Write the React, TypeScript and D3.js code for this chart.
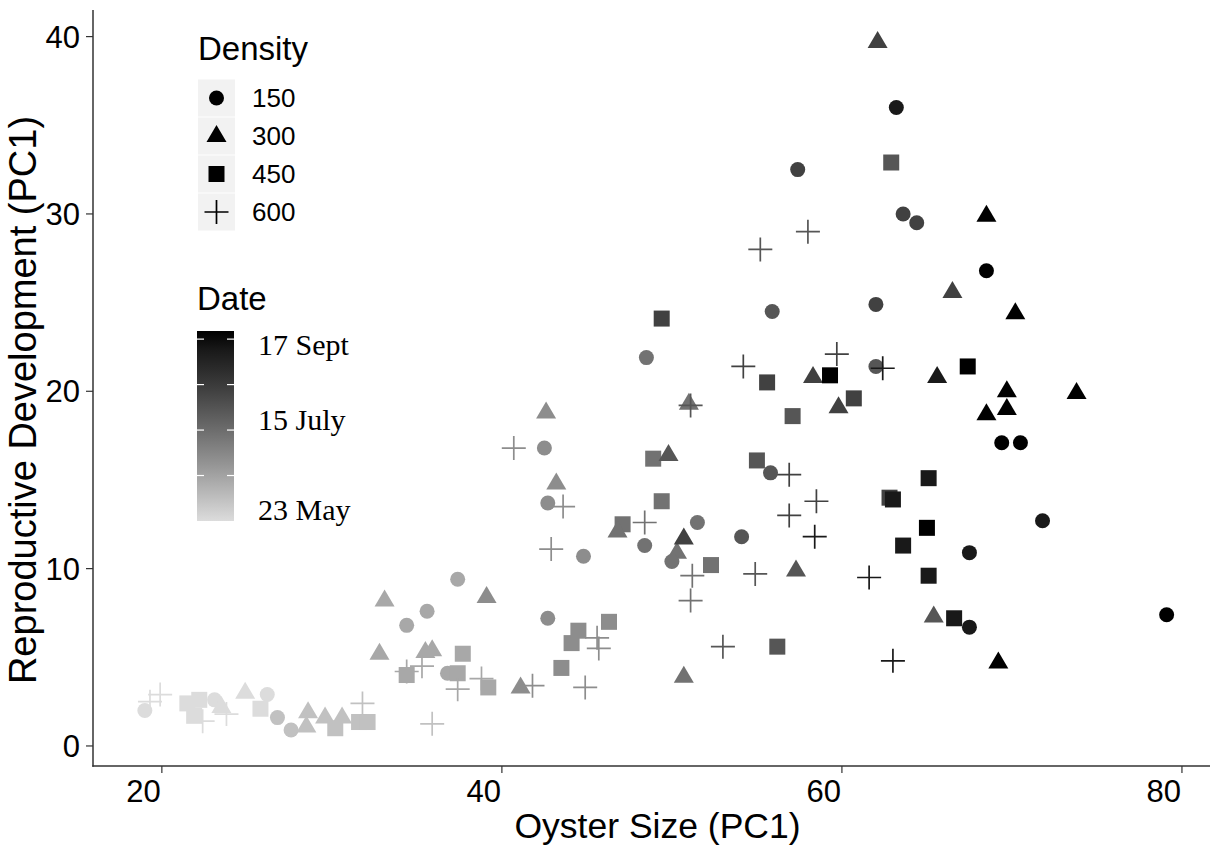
import React, { useEffect } from "react";
import * as d3 from "d3";

// sampling dates (colour scale) and points per sampling date: [oyster size, repro dev, density]
const sampleDates = ["2017-05-23", "2017-06-05", "2017-06-17", "2017-07-01", "2017-07-15",
  "2017-07-30", "2017-08-11", "2017-09-05", "2017-09-17"];

const may23 = [
  [19.0, 2.0, 150], [19.3, 2.5, 600], [19.9, 2.9, 600], [21.5, 2.4, 450], [22.2, 2.6, 450],
  [21.9, 1.7, 450], [22.4, 1.4, 600], [23.1, 2.6, 150], [23.5, 2.2, 300], [23.8, 1.8, 600],
  [24.9, 3.0, 300], [26.2, 2.9, 150], [25.8, 2.1, 450],
];
const jun05 = [
  [26.8, 1.6, 150], [27.6, 0.9, 150], [28.6, 1.9, 300], [28.5, 1.1, 300], [29.6, 1.6, 300],
  [30.6, 1.6, 300], [30.2, 1.0, 450], [31.8, 2.4, 600], [31.6, 1.35, 450], [32.1, 1.35, 450],
  [35.9, 1.25, 600],
];
const jun17 = [
  [33.1, 8.2, 300], [32.8, 5.2, 300], [34.4, 6.8, 150], [35.6, 7.6, 150], [37.4, 9.4, 150],
  [35.5, 5.3, 300], [35.9, 5.4, 300], [34.4, 4.0, 450], [34.4, 4.2, 600], [35.3, 4.5, 600],
  [36.8, 4.1, 150], [37.4, 4.1, 450], [37.4, 3.2, 600], [37.7, 5.2, 450], [38.8, 3.8, 600],
  [39.2, 3.3, 450],
];
const jul01 = [
  [39.1, 8.4, 300], [41.1, 3.3, 300], [41.8, 3.4, 600], [44.9, 3.3, 600], [43.5, 4.4, 450],
  [44.1, 5.8, 450], [44.5, 6.5, 450], [45.6, 6.1, 600], [45.7, 5.5, 600], [46.3, 7.0, 450],
  [42.7, 7.2, 150], [44.8, 10.7, 150], [42.9, 11.1, 600], [42.6, 18.8, 300], [40.7, 16.8, 600],
  [42.5, 16.8, 150], [43.2, 14.8, 300], [42.7, 13.7, 150], [43.6, 13.5, 600],
];
const jul15 = [
  [47.1, 12.5, 450], [46.8, 12.1, 300], [48.4, 12.6, 600], [48.4, 11.3, 150], [49.4, 13.8, 450],
  [48.9, 16.2, 450], [48.5, 21.9, 150], [50.3, 10.9, 300], [50.0, 10.4, 150], [51.5, 12.6, 150],
  [52.3, 10.2, 450], [51.2, 9.6, 600], [51.1, 8.2, 600], [51.0, 19.3, 300], [50.7, 3.9, 300],
];
const jul30 = [
  [49.8, 16.4, 300], [51.1, 19.2, 600], [54.1, 11.8, 150], [54.9, 9.7, 600], [57.3, 9.9, 300],
  [53.0, 5.6, 600], [56.2, 5.6, 450], [55.0, 16.1, 450], [55.8, 15.4, 150], [57.1, 18.6, 450],
  [55.9, 24.5, 150], [55.2, 28.0, 600], [58.0, 29.0, 600], [62.9, 32.9, 450], [65.4, 7.3, 300],
  [62.0, 21.4, 150],
];
const aug11 = [
  [58.5, 13.8, 600], [56.9, 13.0, 600], [58.3, 20.8, 300], [59.8, 19.1, 300], [60.7, 19.6, 450],
  [59.7, 22.1, 600], [62.0, 24.9, 150], [63.6, 30.0, 150], [64.4, 29.5, 150], [66.5, 25.6, 300],
  [62.8, 14.0, 450], [49.4, 24.1, 450], [57.4, 32.5, 150], [62.1, 39.7, 300], [50.7, 11.7, 300],
  [56.9, 15.3, 600], [55.6, 20.5, 450], [54.2, 21.4, 600],
];
const sep05 = [
  [63.2, 36.0, 150], [63.0, 13.9, 450], [65.1, 15.1, 450], [63.6, 11.3, 450], [65.1, 9.6, 450],
  [67.5, 10.9, 150], [66.6, 7.2, 450], [67.5, 6.7, 150], [63.0, 4.8, 600], [65.6, 20.8, 300],
  [62.4, 21.3, 600], [71.8, 12.7, 150], [58.4, 11.8, 600], [61.6, 9.5, 600],
];
const sep17 = [
  [68.5, 29.9, 300], [68.5, 26.8, 150], [70.2, 24.4, 300], [69.7, 20.0, 300], [69.7, 19.0, 300],
  [68.5, 18.7, 300], [73.8, 19.9, 300], [69.4, 17.1, 150], [70.5, 17.1, 150], [79.1, 7.4, 150],
  [69.2, 4.7, 300], [59.3, 20.9, 450], [67.4, 21.4, 450], [65.0, 12.3, 450],
];
const pointsByDate = [may23, jun05, jun17, jul01, jul15, jul30, aug11, sep05, sep17];

const densities = [150, 300, 450, 600];
const xTicks = [20, 40, 60, 80];
const yTicks = [0, 10, 20, 30, 40];
const barBreaks = ["2017-06-20", "2017-07-18", "2017-08-15", "2017-09-12"];
const dateLabels = ["17 Sept", "15 July", "23 May"];
const dateLabelDates = ["2017-09-17", "2017-07-15", "2017-05-23"];
const dateLabelNudge = [24, -5, -1];

const W = 1214, H = 853;
const panel = { left: 93, right: 1210, top: 10, bottom: 766 };
const sans = "'Liberation Sans', Arial, sans-serif";

const parse = d3.timeParse("%Y-%m-%d");

const Marker = ({ density, x, y, color }) => {
  if (density === 150) return <circle cx={x} cy={y} r={7.5} fill={color} />;
  if (density === 300)
    return <path d={`M${x},${y - 11}L${x + 10},${y + 6}L${x - 10},${y + 6}Z`} fill={color} />;
  if (density === 450) return <rect x={x - 8} y={y - 8} width={16} height={16} fill={color} />;
  return (
    <path d={`M${x - 12},${y}H${x + 12}M${x},${y - 12}V${y + 12}`} stroke={color}
      strokeWidth={1.7} fill="none" />
  );
};

export default function App() {
  useEffect(() => {
    document.body.style.margin = "0";
  }, []);

  const x = d3.scaleLinear().domain([15.95, 81.65]).range([panel.left, panel.right]);
  const y = d3.scaleLinear().domain([-1.13, 41.5]).range([panel.bottom, panel.top]);

  const dates = sampleDates.map(parse);
  const colour = d3.scaleTime()
    .domain([dates[0], dates[dates.length - 1]])
    .range(["#dcdcdc", "#000000"])
    .interpolate(d3.interpolateLab);

  // colourbar
  const bar = { x: 197, w: 37, top: 331, bottom: 521 };
  const barY = d3.scaleTime().domain(colour.domain()).range([bar.bottom, bar.top]);
  const stops = d3.range(0, 1.0001, 0.1).map(t => ({
    offset: t,
    col: colour(new Date(+dates[0] + t * (+dates[dates.length - 1] - +dates[0]))),
  }));

  return (
    <svg width={W} height={H} style={{ display: "block", background: "#fff" }}>
      <defs>
        <linearGradient id="dategrad" x1="0" y1="1" x2="0" y2="0">
          {stops.map((s, i) => <stop key={i} offset={s.offset} stopColor={s.col} />)}
        </linearGradient>
      </defs>

      {/* points */}
      <g>
        {pointsByDate.map((pts, di) =>
          pts.map((p, i) => (
            <Marker key={`${di}-${i}`} density={p[2]} x={x(p[0])} y={y(p[1])} color={colour(dates[di])} />
          ))
        )}
      </g>

      {/* axes */}
      <line x1={panel.left} x2={panel.left} y1={panel.top} y2={panel.bottom + 0.7} stroke="#333" strokeWidth={1.5} />
      <line x1={panel.left - 0.7} x2={panel.right} y1={panel.bottom} y2={panel.bottom} stroke="#333" strokeWidth={1.5} />
      {yTicks.map(t => (
        <g key={t}>
          <line x1={panel.left - 7} x2={panel.left} y1={y(t)} y2={y(t)} stroke="#333" strokeWidth={1.2} />
          <text x={panel.left - 13} y={y(t)} dy="0.36em" textAnchor="end" fontFamily={sans} fontSize={31} fill="#000">{t}</text>
        </g>
      ))}
      {xTicks.map(t => (
        <g key={t}>
          <line x1={x(t)} x2={x(t)} y1={panel.bottom} y2={panel.bottom + 7} stroke="#333" strokeWidth={1.2} />
          <text x={x(t) - 1} y={802} textAnchor="end" fontFamily={sans} fontSize={31} fill="#000">{t}</text>
        </g>
      ))}
      <text x={(panel.left + panel.right) / 2 + 6} y={838} textAnchor="middle" fontFamily={sans} fontSize={35.5} fill="#000">
        Oyster Size (PC1)
      </text>
      <text transform={`translate(36,${(panel.top + panel.bottom) / 2 + 12}) rotate(-90)`} textAnchor="middle"
        fontFamily={sans} fontSize={38} fill="#000">
        Reproductive Development (PC1)
      </text>

      {/* density legend */}
      <text x={198} y={60} fontFamily={sans} fontSize={33} fill="#000">Density</text>
      {densities.map((d, i) => {
        const cy = 98 + i * 38;
        return (
          <g key={d}>
            <rect x={198} y={cy - 18.5} width={37} height={37} fill="#f2f2f2" />
            <Marker density={d} x={216.5} y={cy} color="#000" />
            <text x={252} y={cy} dy="0.36em" fontFamily={sans} fontSize={26} fill="#000">{d}</text>
          </g>
        );
      })}

      {/* date legend */}
      <text x={197} y={310} fontFamily={sans} fontSize={33} fill="#000">Date</text>
      <rect x={bar.x} y={bar.top} width={bar.w} height={bar.bottom - bar.top} fill="url(#dategrad)" />
      {barBreaks.map(b => {
        const ty = barY(parse(b));
        return (
          <g key={b} stroke="#fff" strokeWidth={1.2}>
            <line x1={bar.x} x2={bar.x + 7} y1={ty} y2={ty} />
            <line x1={bar.x + bar.w - 7} x2={bar.x + bar.w} y1={ty} y2={ty} />
          </g>
        );
      })}
      {dateLabels.map((l, i) => (
        <text key={l} x={258} y={barY(parse(dateLabelDates[i])) + dateLabelNudge[i]}
          fontFamily="'Liberation Serif', 'Times New Roman', serif" fontSize={30} fill="#000">{l}</text>
      ))}
    </svg>
  );
}
